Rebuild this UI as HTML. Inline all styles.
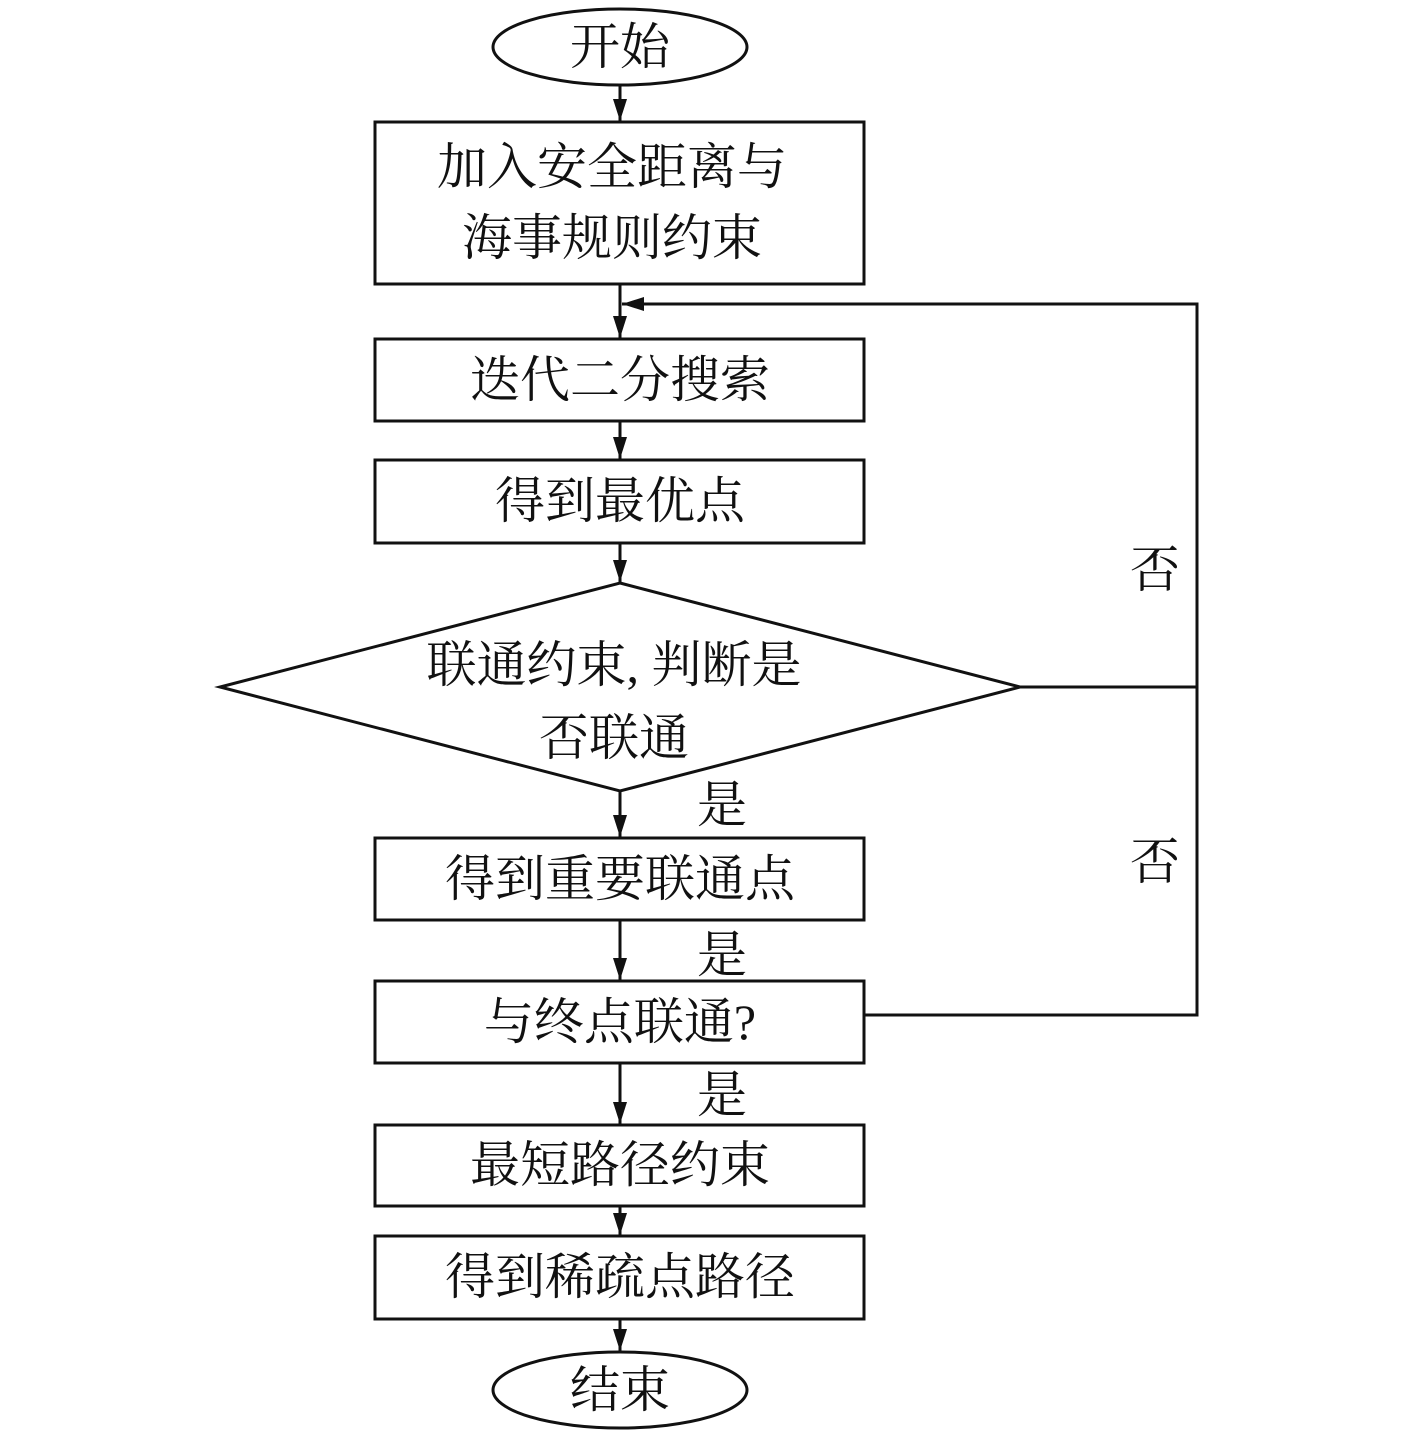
<!DOCTYPE html>
<html><head><meta charset="utf-8"><style>
html,body{margin:0;padding:0;background:#fff;}
svg text{font-family:"Liberation Serif","Noto Serif CJK SC",serif;font-size:50px;fill:#111;text-anchor:middle;dominant-baseline:central;}
</style></head><body>
<svg width="1417" height="1437" viewBox="0 0 1417 1437" xmlns="http://www.w3.org/2000/svg">
<defs><marker id="a" markerWidth="10" markerHeight="8" refX="10" refY="4" orient="auto" markerUnits="userSpaceOnUse" viewBox="0 0 10 8"><path d="M0,0 L10,4 L0,8 z" fill="#111"/></marker>
<marker id="b" markerWidth="22" markerHeight="14" refX="22" refY="7" orient="auto" markerUnits="userSpaceOnUse" viewBox="0 0 22 14"><path d="M0,0 L22,7 L0,14 z" fill="#111"/></marker></defs>
<g stroke="#111" stroke-width="3" fill="none">
<ellipse cx="620" cy="47" rx="127" ry="38"/>
<rect x="375" y="122" width="489" height="162"/>
<rect x="375" y="339" width="489" height="82"/>
<rect x="375" y="460" width="489" height="83"/>
<polygon points="620,583 1020,687 620,791 220,687"/>
<rect x="375" y="838" width="489" height="82"/>
<rect x="375" y="981" width="489" height="82"/>
<rect x="375" y="1125" width="489" height="81"/>
<rect x="375" y="1236" width="489" height="83"/>
<ellipse cx="620" cy="1390" rx="127" ry="38"/>
<line x1="620" y1="85" x2="620" y2="121" marker-end="url(#b)"/>
<line x1="620" y1="284" x2="620" y2="338" marker-end="url(#b)"/>
<line x1="620" y1="421" x2="620" y2="459" marker-end="url(#b)"/>
<line x1="620" y1="543" x2="620" y2="582" marker-end="url(#b)"/>
<line x1="620" y1="791" x2="620" y2="837" marker-end="url(#b)"/>
<line x1="620" y1="920" x2="620" y2="980" marker-end="url(#b)"/>
<line x1="620" y1="1063" x2="620" y2="1124" marker-end="url(#b)"/>
<line x1="620" y1="1206" x2="620" y2="1235" marker-end="url(#b)"/>
<line x1="620" y1="1319" x2="620" y2="1351" marker-end="url(#b)"/>
<polyline points="1020,687 1197,687"/>
<polyline points="864,1015 1197,1015 1197,304 622,304" marker-end="url(#b)"/>
</g>
<text x="620" y="47">开始</text>
<text x="612" y="167">加入安全距离与</text>
<text x="612" y="238">海事规则约束</text>
<text x="620" y="380">迭代二分搜索</text>
<text x="620" y="501">得到最优点</text>
<text x="614" y="665">联通约束, 判断是</text>
<text x="614" y="738">否联通</text>
<text x="620" y="879">得到重要联通点</text>
<text x="620" y="1022">与终点联通?</text>
<text x="620" y="1165">最短路径约束</text>
<text x="620" y="1277">得到稀疏点路径</text>
<text x="620" y="1390">结束</text>
<text x="1155" y="570">否</text>
<text x="1155" y="862">否</text>
<text x="722" y="805">是</text>
<text x="722" y="955">是</text>
<text x="722" y="1095">是</text>
</svg>
</body></html>
